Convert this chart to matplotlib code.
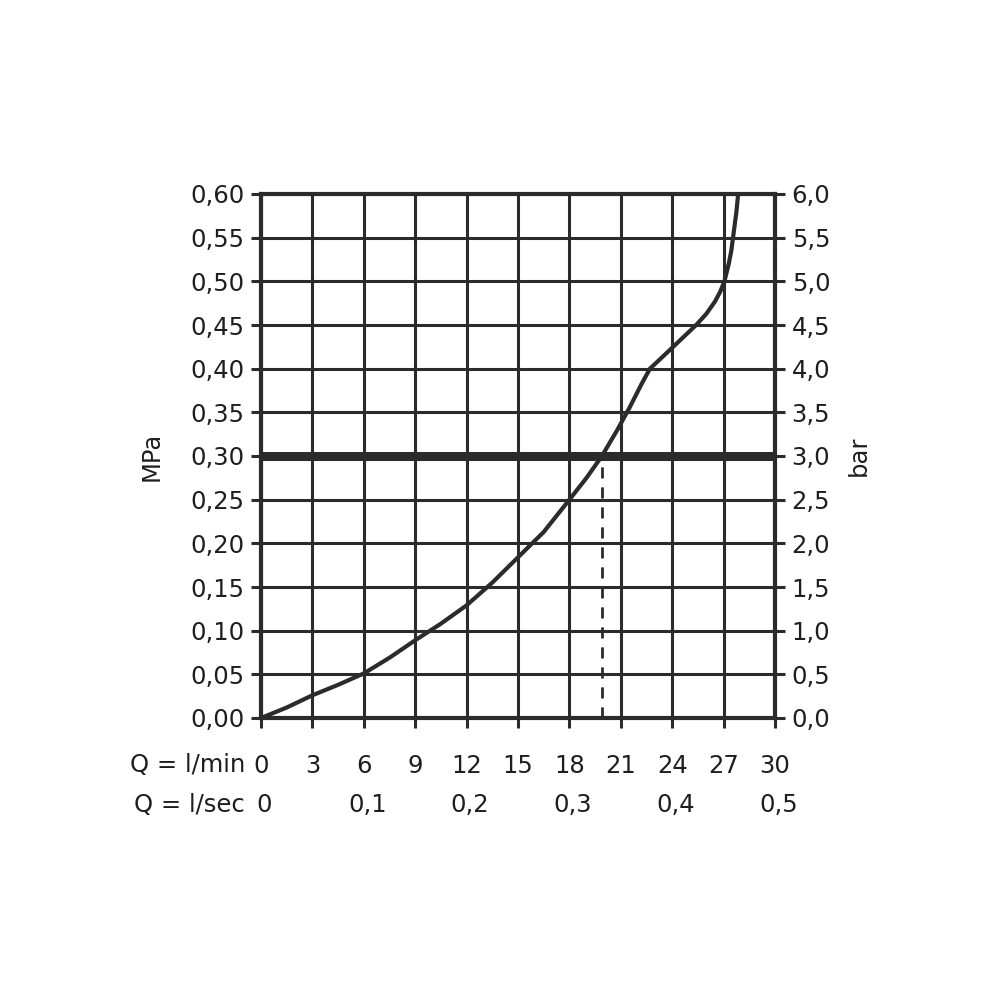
import matplotlib
matplotlib.use('Agg')
import matplotlib.pyplot as plt

# flow (l/min) vs pressure (MPa)
flow = [0, 1.5, 3, 4.5, 6, 7.5, 9, 10.5, 12, 13.5, 15, 16.5, 18, 19,
        19.9, 20.8, 21.5, 22.2, 22.7, 23.3, 24, 24.7, 25.4, 26.0, 26.5,
        26.8, 27.05, 27.3, 27.45, 27.55, 27.65, 27.75, 27.85]
pressure = [0, 0.012, 0.026, 0.038, 0.051, 0.069, 0.089, 0.108, 0.129,
            0.155, 0.184, 0.213, 0.25, 0.275, 0.30, 0.33, 0.355, 0.382,
            0.40, 0.411, 0.424, 0.437, 0.45, 0.463, 0.477, 0.488, 0.50,
            0.52, 0.535, 0.55, 0.565, 0.58, 0.60]

ref_pressure = 0.30
ref_flow = 19.9

lmin_ticks = [0, 3, 6, 9, 12, 15, 18, 21, 24, 27, 30]
lsec_pos = [0, 6, 12, 18, 24, 30]
lsec_labels = ['0', '0,1', '0,2', '0,3', '0,4', '0,5']
mpa_ticks = [0.0, 0.05, 0.10, 0.15, 0.20, 0.25, 0.30, 0.35, 0.40, 0.45, 0.50, 0.55, 0.60]
bar_ticks = [0.0, 0.5, 1.0, 1.5, 2.0, 2.5, 3.0, 3.5, 4.0, 4.5, 5.0, 5.5, 6.0]

plt.rcParams['font.family'] = ['DejaVu Sans']
ink = '#2b2b2b'
txt = '#1e1e1e'
fs = 17.5

fig = plt.figure(figsize=(10, 10), dpi=100)
ax = fig.add_axes([0.261, 0.282, 0.514, 0.524])
ax.set_xlim(0, 30)
ax.set_ylim(0, 0.6)

ax.set_xticks(lmin_ticks)
ax.set_xticklabels([str(t) for t in lmin_ticks])
ax.set_yticks(mpa_ticks)
ax.set_yticklabels([('%.2f' % t).replace('.', ',') for t in mpa_ticks])
ax.grid(True, color=ink, linewidth=2.2)
ax.set_axisbelow(True)
for s in ax.spines.values():
    s.set_color(ink)
    s.set_linewidth(3)
ax.tick_params(axis='both', colors=ink, labelcolor=txt, labelsize=fs,
               width=2.2, length=7, direction='out')
ax.tick_params(axis='x', pad=19)
ax.tick_params(axis='y', pad=5)

ax.axhline(ref_pressure, color=ink, linewidth=6.5, zorder=3)
ax.plot([ref_flow, ref_flow], [0, ref_pressure], color=ink, linewidth=2,
        linestyle=(0, (4, 3.2)), zorder=3)
ax.plot(flow, pressure, color=ink, linewidth=3, zorder=4,
        solid_capstyle='butt', solid_joinstyle='round')

ax.set_ylabel('MPa', fontsize=fs, color=txt)
ax.yaxis.set_label_coords(-0.19, 0.5)

ax2 = ax.twinx()
ax2.set_ylim(0, 6)
ax2.set_yticks(bar_ticks)
ax2.set_yticklabels([('%.1f' % t).replace('.', ',') for t in bar_ticks])
ax2.tick_params(axis='y', colors=ink, labelcolor=txt, labelsize=fs,
                width=2.2, length=7, direction='out', pad=5)
for s in ax2.spines.values():
    s.set_visible(False)
ax2.set_ylabel('bar', fontsize=fs, color=txt)
ax2.yaxis.set_label_coords(1.14, 0.5)

# second row of flow labels (l/sec)
for p, lab in zip(lsec_pos, lsec_labels):
    ax.text(p + 0.2, -0.100, lab, ha='center', va='center', fontsize=fs,
            color=txt, transform=ax.transData, clip_on=False)

fig.text(0.245, 0.235, 'Q = l/min', ha='right', va='center', fontsize=fs,
         color=txt)
fig.text(0.245, 0.195, 'Q = l/sec', ha='right', va='center', fontsize=fs,
         color=txt)

fig.savefig('out.png', dpi=100, facecolor='white')
